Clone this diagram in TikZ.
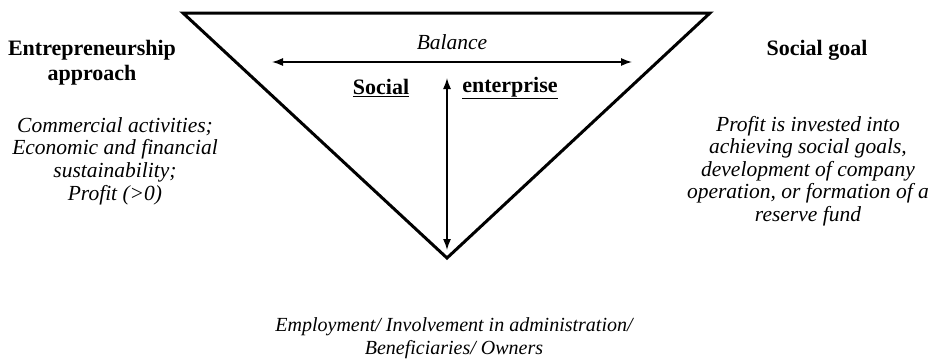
\documentclass[tikz,border=0pt]{standalone}
\usepackage{fontspec}
\setmainfont{Liberation Serif}
\usetikzlibrary{arrows.meta}

\begin{document}
\begin{tikzpicture}[%
  x=1pt, y=-1pt,
  head/.style={font=\fontsize{22}{25}\selectfont\bfseries, align=center},
  note/.style={font=\fontsize{21.5}{22.6}\selectfont\itshape, align=center},
  both/.style={{Latex[length=11pt,width=8pt]}-{Latex[length=11pt,width=8pt]}, line width=1.4pt}]
\useasboundingbox (0,0) rectangle (931,359);
\coordinate (tl) at (183,13);
\coordinate (tr) at (710,13);
\coordinate (apex) at (447,258);
\draw[line width=3pt, line join=miter] (tl) -- (tr) -- (apex) -- cycle;
% balance arrow
\coordinate (bleft) at (272,62);
\coordinate (bright) at (632,62);
\draw[both] (bleft) -- (bright);
\node[note] (bal) at (452,42) {Balance};
% vertical arrow
\coordinate (vtop) at (447,78);
\coordinate (vbot) at (447,250);
\draw[both] (vtop) -- (vbot);
\node[head] (soc) at (381,88) {\underline{Social}};
\node[head] (ent) at (510,88) {\underline{enterprise}};
% left side
\node[head] (entre) at (92,62.5) {Entrepreneurship\\approach};
\node[note] (comm) at (115,161) {Commercial activities;\\Economic and financial\\sustainability;\\Profit (>0)};
% right side
\node[head] (goal) at (817,50) {Social goal};
\node[note] (profit) at (808,171) {Profit is invested into\\achieving social goals,\\development of company\\operation, or formation of a\\reserve fund};
% bottom
\node[note, font=\fontsize{20}{22.6}\selectfont\itshape] (empl) at (454,338) {Employment/ Involvement in administration/\\Beneficiaries/ Owners};
\end{tikzpicture}
\end{document}
